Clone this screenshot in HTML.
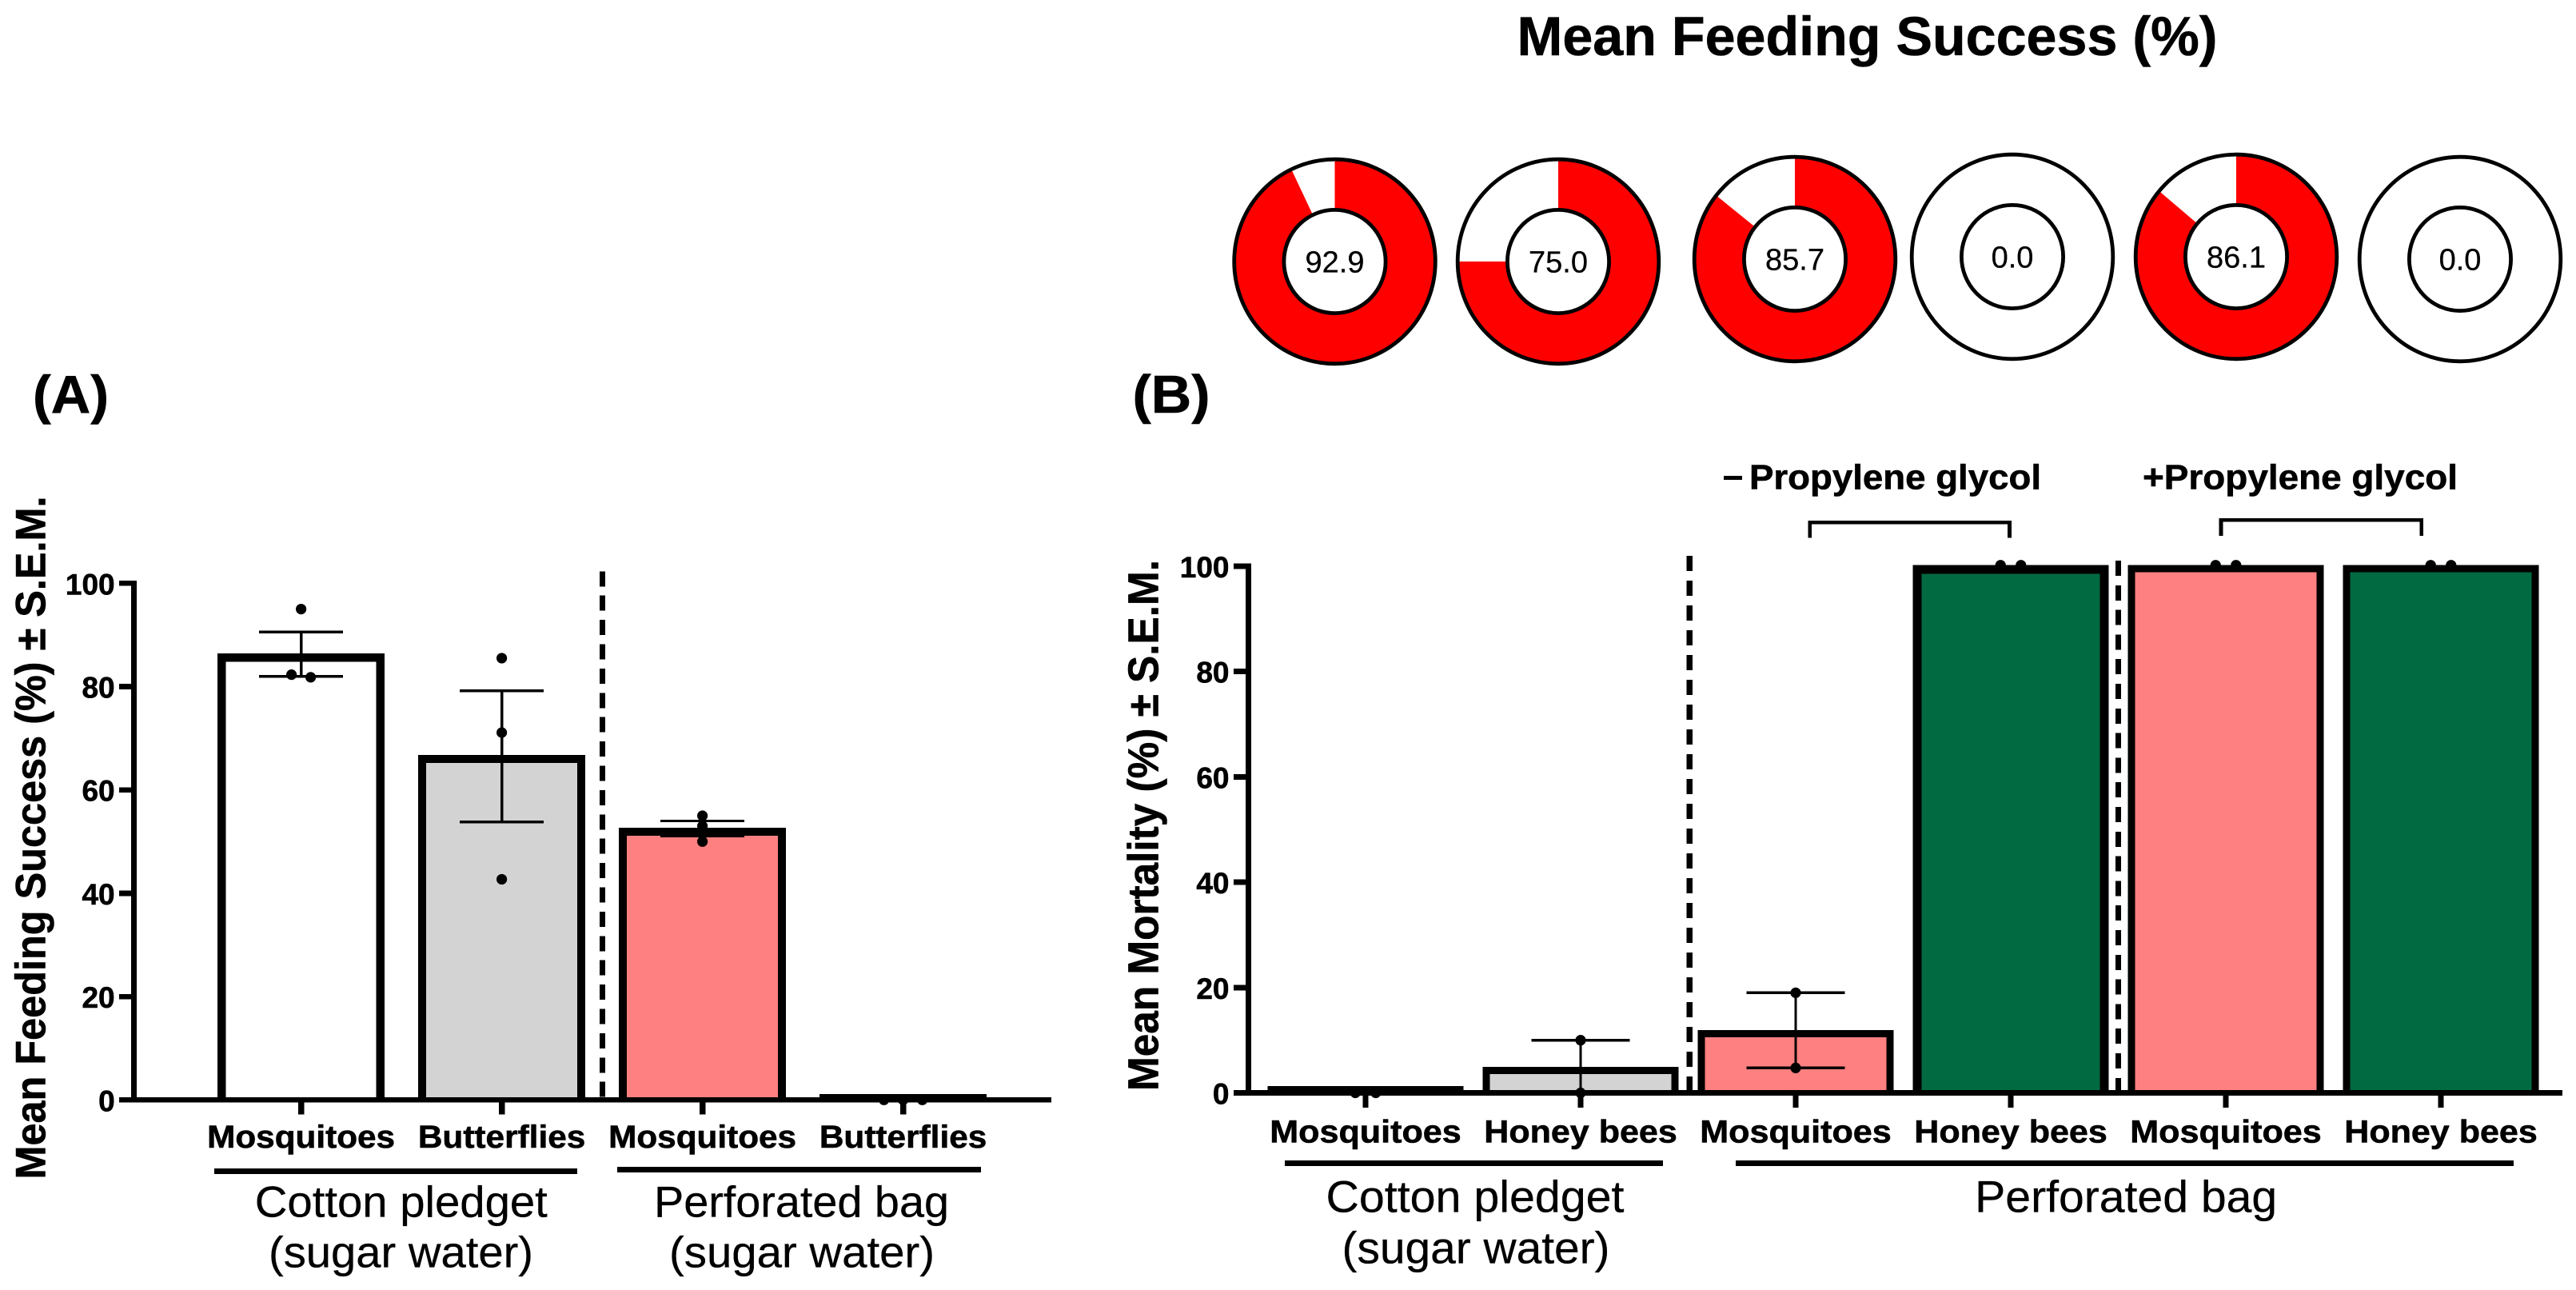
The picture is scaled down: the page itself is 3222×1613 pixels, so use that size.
<!DOCTYPE html>
<html lang="en">
<head>
<meta charset="utf-8">
<title>Mean Feeding Success and Mortality</title>
<style>
html,body{margin:0;padding:0;background:#fff;}
svg{display:block;}
text{font-family:"Liberation Sans",Arial,sans-serif;fill:#000;stroke:#000;stroke-width:.3;}
.b{font-weight:bold;stroke-width:.6;}
.sq{shape-rendering:crispEdges;}
</style>
</head>
<body>
<svg id="fig" xmlns="http://www.w3.org/2000/svg" width="3222" height="1613" viewBox="0 0 3222 1613">
  <rect x="0" y="0" width="3222" height="1613" fill="#fff"/>

  <text class="b" x="2335.5" y="69" font-size="69" text-anchor="middle" textLength="876" lengthAdjust="spacingAndGlyphs">Mean Feeding Success (%)</text>

  <g id="donut-0" transform="translate(1669.5,327)"></g>
  <g id="donut-1" transform="translate(1949,327)"></g>
  <g id="donut-2" transform="translate(2245,324)"></g>
  <g id="donut-3" transform="translate(2517,321)"></g>
  <g id="donut-4" transform="translate(2797,321)"></g>
  <g id="donut-5" transform="translate(3077,324)"></g>

  <text class="b" x="88.5" y="516.7" font-size="67" text-anchor="middle" textLength="95" lengthAdjust="spacingAndGlyphs">(A)</text>
  <text class="b" x="1465" y="516" font-size="67" text-anchor="middle" textLength="97" lengthAdjust="spacingAndGlyphs">(B)</text>

  <g id="panel-a"></g>
  <g id="panel-b"></g>

  <text class="b" transform="translate(56.7,1047.5) rotate(-90)" font-size="53" text-anchor="middle" textLength="854" lengthAdjust="spacingAndGlyphs">Mean Feeding Success (%) ± S.E.M.</text>
  <text class="b" transform="translate(1448.3,1032) rotate(-90)" font-size="54" text-anchor="middle" textLength="664" lengthAdjust="spacingAndGlyphs">Mean Mortality (%) ± S.E.M.</text>

  <line class="sq" x1="753.4" y1="714.3" x2="753.4" y2="1372" stroke="#000" stroke-width="7" stroke-dasharray="19 11.4"/>
  <line class="sq" x1="2113" y1="695" x2="2113" y2="1363" stroke="#000" stroke-width="7.5" stroke-dasharray="19 12"/>
  <line class="sq" x1="2649.6" y1="701" x2="2649.6" y2="1363" stroke="#000" stroke-width="7" stroke-dasharray="19 11.8"/>

  <rect class="sq" x="268" y="1461" width="454" height="7" fill="#000"/>
  <rect class="sq" x="772" y="1459" width="455" height="7" fill="#000"/>
  <text x="501.8" y="1521.3" font-size="55" text-anchor="middle" textLength="366" lengthAdjust="spacingAndGlyphs">Cotton pledget</text>
  <text x="501.5" y="1584.7" font-size="55" text-anchor="middle" textLength="331" lengthAdjust="spacingAndGlyphs">(sugar water)</text>
  <text x="1002.5" y="1521.3" font-size="55" text-anchor="middle" textLength="369" lengthAdjust="spacingAndGlyphs">Perforated bag</text>
  <text x="1003" y="1584.7" font-size="55" text-anchor="middle" textLength="332" lengthAdjust="spacingAndGlyphs">(sugar water)</text>

  <rect class="sq" x="1607" y="1451" width="473" height="7" fill="#000"/>
  <rect class="sq" x="2171" y="1451" width="973" height="7" fill="#000"/>
  <text x="1845" y="1515.7" font-size="56" text-anchor="middle" textLength="373" lengthAdjust="spacingAndGlyphs">Cotton pledget</text>
  <text x="1846" y="1579.7" font-size="56" text-anchor="middle" textLength="335" lengthAdjust="spacingAndGlyphs">(sugar water)</text>
  <text x="2659.2" y="1515.7" font-size="56" text-anchor="middle" textLength="378" lengthAdjust="spacingAndGlyphs">Perforated bag</text>

  <rect class="sq" x="2156" y="595" width="23" height="5" fill="#000"/>
  <text class="b" x="2188" y="611.7" font-size="44" textLength="365" lengthAdjust="spacingAndGlyphs">Propylene glycol</text>
  <text class="b" x="2680" y="611.7" font-size="44" textLength="394" lengthAdjust="spacingAndGlyphs">+Propylene glycol</text>
  <path class="sq" d="M2263.6 672.7V653.3H2513.4V672.7" fill="none" stroke="#000" stroke-width="4.7"/>
  <path class="sq" d="M2778 670V650.3H3028.6V670" fill="none" stroke="#000" stroke-width="4.7"/>
</svg>

<script>
// ---- Panel A data: Mean Feeding Success ----
const categoriesA = ['Mosquitoes', 'Butterflies', 'Mosquitoes', 'Butterflies'];
const meansA = [86.4, 66.8, 52.7, 1.1];
const errHighA = [90.55, 79.2, 54, 0];
const errLowA = [82, 53.8, 51.1, 0];
const pointsA = [[95, 82.3, 81.8], [85.5, 71.1, 42.7], [55, 53, 51.5, 50], [0, 0, 0]];
const yTicksA = [0, 20, 40, 60, 80, 100];

// ---- Panel B data: Mean Mortality ----
const categoriesB = ['Mosquitoes', 'Honey bees', 'Mosquitoes', 'Honey bees', 'Mosquitoes', 'Honey bees'];
const meansB = [1.3, 4.95, 11.9, 100.2, 100.2, 100.2];
const errHighB = [0, 10, 19, 100, 100, 100];
const errLowB = [0, 0, 4.74, 100, 100, 100];
const pointsB = [[0, 0], [10, 0], [19, 4.74], [100.2, 100.2], [100.2, 100.2], [100.2, 100.2]];
const yTicksB = [0, 20, 40, 60, 80, 100];

// ---- Donut data: Mean Feeding Success (%) ----
const donutValues = [92.9, 75.0, 85.7, 0.0, 86.1, 0.0];

const NS = 'http://www.w3.org/2000/svg';
function mk(parent, tag, attrs) {
  const e = document.createElementNS(NS, tag);
  for (const k in attrs) e.setAttribute(k, attrs[k]);
  parent.appendChild(e);
  return e;
}

const PINK = '#ff8080', GREY = '#d3d3d3', GREEN = '#026a41', WHITE = '#ffffff';

function drawPanel(cfg) {
  const root = document.getElementById(cfg.id);
  const yScale = v => cfg.y0 - cfg.k * v;
  const xScale = i => cfg.x0 + cfg.step * i;

  // bars
  cfg.means.forEach((m, i) => {
    const cx = xScale(i), top = yScale(m), bottom = cfg.y0;
    const s = cfg.borders[i];
    const outer = mk(root, 'rect', {x: cx - cfg.barW / 2, y: top, width: cfg.barW, height: Math.max(0, bottom - top), fill: '#000', class: 'sq'});
    
    
    const innerH = bottom - top - s;
    if (innerH > 0) {
      const inner = mk(root, 'rect', {x: cx - cfg.barW / 2 + s, y: top + s, width: cfg.barW - 2 * s, height: innerH, fill: cfg.fills[i], class: 'sq'});
      
      
    }
  });

  // error bars
  cfg.means.forEach((m, i) => {
    const cx = xScale(i), hi = yScale(cfg.errHigh[i]), lo = yScale(cfg.errLow[i]);
    const d = 'M' + (cx - cfg.capHalf) + ' ' + hi + 'H' + (cx + cfg.capHalf) +
              'M' + cx + ' ' + hi + 'V' + lo +
              'M' + (cx - cfg.capHalf) + ' ' + lo + 'H' + (cx + cfg.capHalf);
    const err = mk(root, 'path', {d: d, fill: 'none', stroke: '#000', 'stroke-width': 3.4, class: 'sq'});
    
    
  });

  // individual data points; near-equal values sit side by side
  cfg.points.forEach((vals, i) => {
    const cx = xScale(i);
    const sorted = vals.slice().sort((a, b) => b - a);
    const clusters = [];
    sorted.forEach(v => {
      const last = clusters[clusters.length - 1];
      if (last && Math.abs(last[last.length - 1] - v) < 0.6) last.push(v);
      else clusters.push([v]);
    });
    clusters.forEach(c => {
      c.forEach((v, j) => {
        const off = (j - (c.length - 1) / 2) * cfg.spread;
        const dot = mk(root, 'circle', {cx: cx + off, cy: yScale(v), r: 6.6, fill: '#000'});
        
        
      });
    });
  });

  // axes
  const half = cfg.axisW / 2;
  const yAxis = mk(root, 'rect', {x: cfg.axisX - half, y: yScale(100) - half, width: cfg.axisW, height: cfg.y0 - yScale(100) + cfg.axisW, fill: '#000', class: 'sq'});
  
  
  const xAxis = mk(root, 'rect', {x: cfg.axisX - half - 15, y: cfg.y0 - half, width: cfg.axisEnd - (cfg.axisX - half - 15), height: cfg.axisW, fill: '#000', class: 'sq'});
  
  

  cfg.ticks.forEach(t => {
    const ty = yScale(t);
    const tick = mk(root, 'rect', {x: cfg.axisX - half - 15, y: ty - half, width: 15, height: cfg.axisW, fill: '#000', class: 'sq'});
    
    
    const lab = mk(root, 'text', {x: cfg.axisX - half - 20.5, y: ty + 14, 'font-size': 37, 'text-anchor': 'end', class: 'b'});
    
    
    lab.textContent = String(t);
  });

  cfg.cats.forEach((c, i) => {
    const cx = xScale(i);
    const tick = mk(root, 'rect', {x: cx - 3.7, y: cfg.y0 + half, width: 7.4, height: 15, fill: '#000', class: 'sq'});
    
    
    const lab = mk(root, 'text', {x: cx, y: cfg.labelY, 'font-size': 40, 'text-anchor': 'middle', class: 'b', textLength: cfg.labelW[c], lengthAdjust: 'spacingAndGlyphs'});
    
    
    lab.textContent = c;
  });
}

drawPanel({
  id: 'panel-a', y0: 1375.3, k: 6.46, x0: 376.6, step: 251, barW: 209, capHalf: 52.5,
  spread: 24, axisX: 167.5, axisW: 6.7, axisEnd: 1315, labelY: 1435,
  labelW: {'Mosquitoes': 235, 'Butterflies': 209.5},
  borders: [10.5, 10, 10, 10],
  fills: [WHITE, GREY, PINK, WHITE],
  means: meansA, errHigh: errHighA, errLow: errLowA, points: pointsA, ticks: yTicksA, cats: categoriesA
});

drawPanel({
  id: 'panel-b', y0: 1366.5, k: 6.585, x0: 1708, step: 269, barW: 245, capHalf: 61.5,
  spread: 25.5, axisX: 1561.5, axisW: 7, axisEnd: 3205, labelY: 1428.3,
  labelW: {'Mosquitoes': 239.5, 'Honey bees': 241.5},
  borders: [9, 9, 9, 11, 9, 9],
  fills: [GREY, GREY, PINK, GREEN, PINK, GREEN],
  means: meansB, errHigh: errHighB, errLow: errLowB, points: pointsB, ticks: yTicksB, cats: categoriesB
});

// donuts
donutValues.forEach((v, i) => {
  const g = document.getElementById('donut-' + i);
  const rx = 125.8, ry = 127.8, irx = 63.6, iry = 64.6;
  const t = 2 * Math.PI * v / 100;
  const large = v > 50 ? 1 : 0;
  const d = 'M0 0L0 ' + (-ry) + 'A' + rx + ' ' + ry + ' 0 ' + large + ' 1 ' + (rx * Math.sin(t)) + ' ' + (-ry * Math.cos(t)) + 'Z';
  const slice = mk(g, 'path', {d: d, fill: '#ff0000'});
  
  
  const outer = mk(g, 'ellipse', {cx: 0, cy: 0, rx: rx, ry: ry, fill: 'none', stroke: '#000', 'stroke-width': 4.8});
  
  
  const inner = mk(g, 'ellipse', {cx: 0, cy: 0, rx: irx, ry: iry, fill: '#fff', stroke: '#000', 'stroke-width': 4.8});
  
  
  const lab = mk(g, 'text', {x: 0, y: 13.5, 'font-size': 38, 'text-anchor': 'middle'});
  
  
  lab.textContent = v.toFixed(1);
});
</script>
</body>
</html>
